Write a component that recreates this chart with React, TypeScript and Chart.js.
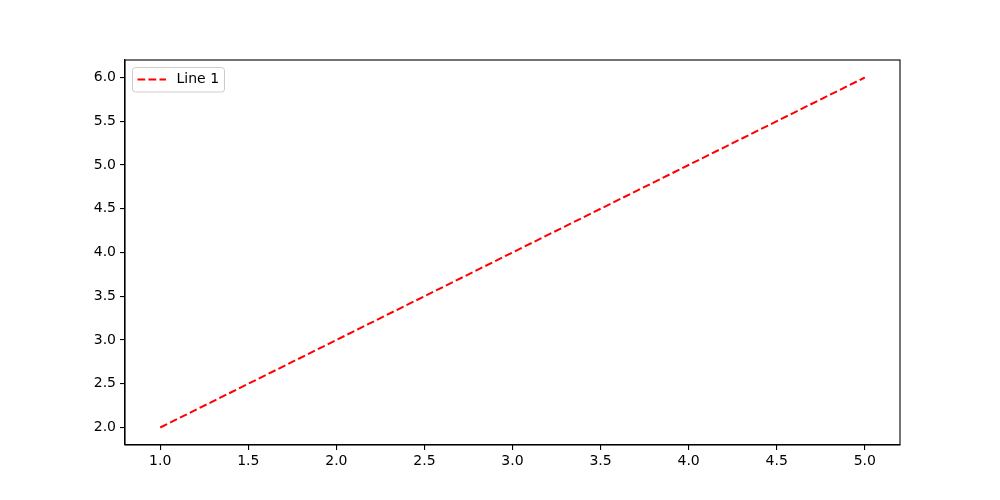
import { useEffect, useRef } from "react"
import { Chart, registerables, Plugin } from "chart.js"

Chart.register(...registerables)

// data
const xValues = [1, 2, 3, 4, 5]
const yValues = [2, 3, 4, 5, 6]
const xTicks = [1.0, 1.5, 2.0, 2.5, 3.0, 3.5, 4.0, 4.5, 5.0]
const yTicks = [2.0, 2.5, 3.0, 3.5, 4.0, 4.5, 5.0, 5.5, 6.0]
const seriesLabel = "Line 1"

const FONT = "'DejaVu Sans', sans-serif"

// frame around the axes + matplotlib style legend
const framePlugin: Plugin<"line"> = {
  id: "frame",
  afterDraw(chart) {
    const { ctx, chartArea } = chart
    const { left, top, right, bottom } = chartArea
    ctx.save()
    ctx.strokeStyle = "#000"
    ctx.lineWidth = 1.1
    ctx.strokeRect(left, top, right - left, bottom - top)

    // legend
    const bx = left + 7.5
    const by = top + 7.5
    const bw = 92
    const bh = 24.5
    const r = 3
    ctx.beginPath()
    ctx.moveTo(bx + r, by)
    ctx.lineTo(bx + bw - r, by)
    ctx.quadraticCurveTo(bx + bw, by, bx + bw, by + r)
    ctx.lineTo(bx + bw, by + bh - r)
    ctx.quadraticCurveTo(bx + bw, by + bh, bx + bw - r, by + bh)
    ctx.lineTo(bx + r, by + bh)
    ctx.quadraticCurveTo(bx, by + bh, bx, by + bh - r)
    ctx.lineTo(bx, by + r)
    ctx.quadraticCurveTo(bx, by, bx + r, by)
    ctx.closePath()
    ctx.fillStyle = "rgba(255,255,255,0.8)"
    ctx.fill()
    ctx.strokeStyle = "#cccccc"
    ctx.lineWidth = 1
    ctx.stroke()

    const ly = by + 12
    ctx.beginPath()
    ctx.setLineDash([7.7, 3.3])
    ctx.strokeStyle = "#ff0000"
    ctx.lineWidth = 2
    ctx.moveTo(bx + 5, ly)
    ctx.lineTo(bx + 33.5, ly)
    ctx.stroke()
    ctx.setLineDash([])

    ctx.fillStyle = "#000"
    ctx.font = `14px ${FONT}`
    ctx.textBaseline = "middle"
    ctx.fillText(seriesLabel, bx + 44, ly)
    ctx.restore()
  },
}

export default function App() {
  const canvasRef = useRef<HTMLCanvasElement>(null)

  useEffect(() => {
    document.body.style.margin = "0"
    if (!canvasRef.current) return
    const chart = new Chart(canvasRef.current, {
      type: "line",
      data: {
        datasets: [
          {
            label: seriesLabel,
            data: xValues.map((x, i) => ({ x, y: yValues[i] })),
            borderColor: "#ff0000",
            borderWidth: 2,
            borderDash: [7.7, 3.3],
            pointRadius: 0,
            tension: 0,
            fill: false,
          },
        ],
      },
      options: {
        animation: false,
        responsive: false,
        layout: { padding: { top: 60, right: 100, left: 0, bottom: 0 } },
        plugins: { legend: { display: false }, tooltip: { enabled: false } },
        scales: {
          x: {
            type: "linear",
            min: 0.8,
            max: 5.2,
            afterBuildTicks: (scale) => {
              scale.ticks = xTicks.map((v) => ({ value: v }))
            },
            afterFit: (scale) => {
              scale.height = 55
            },
            grid: { drawOnChartArea: false, drawTicks: true, tickLength: 5, color: "#000", lineWidth: 1.1 },
            border: { display: true, color: "#000", width: 1.1 },
            ticks: {
              color: "#000",
              font: { family: FONT, size: 14 },
              padding: 3,
              maxRotation: 0,
              autoSkip: false,
              callback: (v) => Number(v).toFixed(1),
            },
          },
          y: {
            type: "linear",
            min: 1.8,
            max: 6.2,
            afterBuildTicks: (scale) => {
              scale.ticks = yTicks.map((v) => ({ value: v }))
            },
            afterFit: (scale) => {
              scale.width = 125
            },
            grid: { drawOnChartArea: false, drawTicks: true, tickLength: 5, color: "#000", lineWidth: 1.1 },
            border: { display: true, color: "#000", width: 1.1 },
            ticks: {
              color: "#000",
              font: { family: FONT, size: 14 },
              padding: 4,
              autoSkip: false,
              callback: (v) => Number(v).toFixed(1),
            },
          },
        },
      },
      plugins: [framePlugin],
    })
    return () => chart.destroy()
  }, [])

  return (
    <div style={{ width: 1000, height: 500, background: "#fff" }}>
      <canvas ref={canvasRef} width={1000} height={500} style={{ display: "block" }} />
    </div>
  )
}
